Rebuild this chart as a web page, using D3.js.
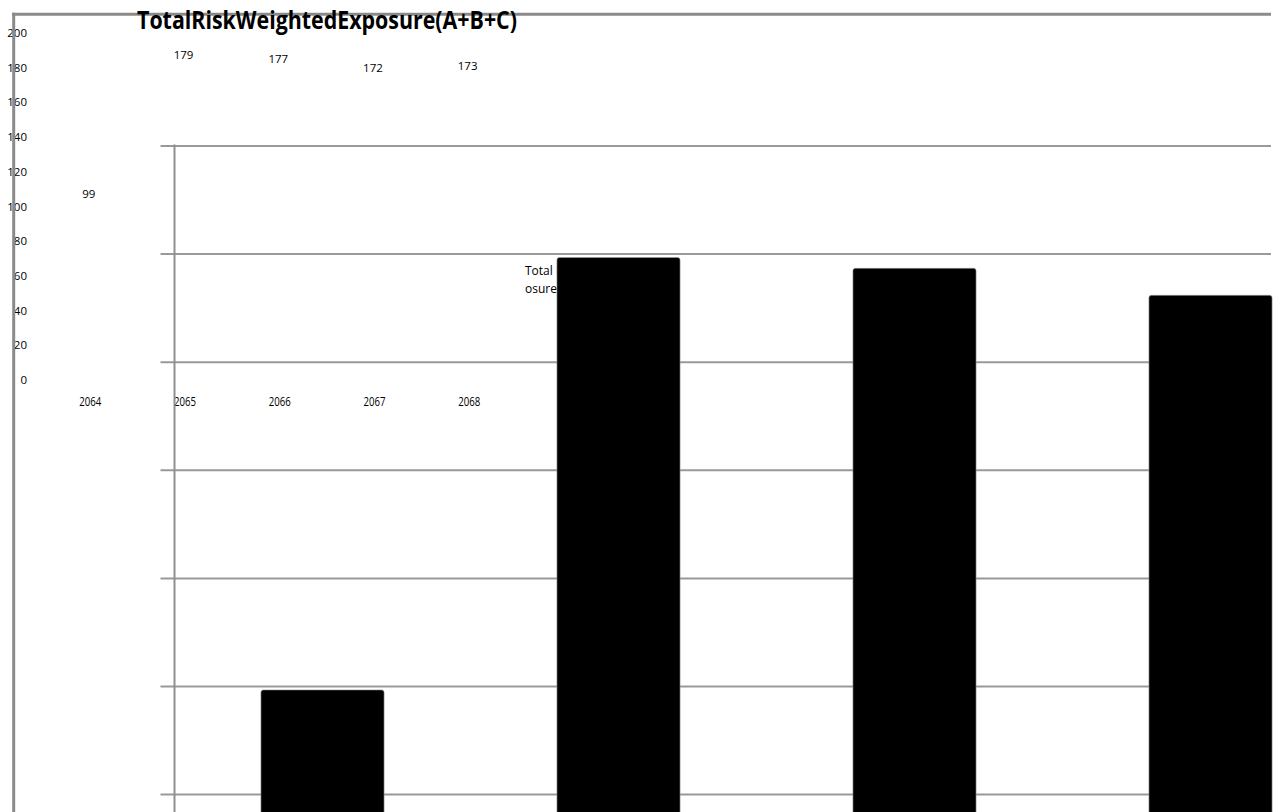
<!DOCTYPE html>
<html>
<head>
<meta charset="utf-8">
<script src="https://cdn.jsdelivr.net/npm/d3@7"></script>
<style>
  html, body { margin: 0; padding: 0; background: #fff; }
  svg { display: block; }
  text { font-family: "Open Sans", "Liberation Sans", sans-serif; fill: #000; }
</style>
</head>
<body>
<svg id="chart" width="1278" height="812"></svg>
<script>
// Total risk weighted exposure by fiscal year
const years = ["2064", "2065", "2066", "2067", "2068"];
const exposure = [99, 179, 177, 172, 173];
const tickValues = [0, 20, 40, 60, 80, 100, 120, 140, 160, 180, 200];
const titleText = "TotalRiskWeightedExposure(A+B+C)";
const legendLines = ["Total Risk Weighted Exp", "osure (A+B+C)"];

const svg = d3.select("#chart");
svg.append("rect").attr("width", 1278).attr("height", 812).attr("fill", "#fff");

// ---- compact overview: tick labels, value labels and year labels ----
const ySmall = d3.scaleLinear().domain([0, 200]).range([380, 33]);
const xSmall = d3.scaleBand().domain(years).range([43, 516.5]).padding(0);

const small = svg.append("g");
small.selectAll("text.tick").data(tickValues).join("text")
  .attr("class", "tick")
  .attr("x", 27)
  .attr("y", d => ySmall(d))
  .attr("dy", "0.35em")
  .attr("text-anchor", "end")
  .attr("font-size", 11.5)
  .text(d => d);

small.selectAll("text.val").data(exposure).join("text")
  .attr("class", "val")
  .attr("x", (d, i) => xSmall(years[i]) + xSmall.bandwidth() / 2 - 1.5)
  .attr("y", d => ySmall(d) - 14)
  .attr("dy", "0.35em")
  .attr("text-anchor", "middle")
  .attr("font-size", 11.5)
  .text(d => d);

small.selectAll("text.year").data(years).join("text")
  .attr("class", "year")
  .attr("x", d => xSmall(d) + xSmall.bandwidth() / 2 - 11)
  .attr("y", 402)
  .attr("dy", "0.35em")
  .attr("font-size", 12.5)
  .attr("textLength", 22)
  .attr("lengthAdjust", "spacingAndGlyphs")
  .text(d => d);

// ---- enlarged bar chart ----
const plotLeft = 174.5, plotRight = 1271;
const yBig = d3.scaleLinear().domain([0, 200]).range([1226.5, 145.5]);
const xBig = d3.scaleBand().domain(years)
  .range([plotLeft, plotLeft + 296 * years.length])
  .paddingInner(0.584).paddingOuter(0.292);

// gridlines with short outside ticks on the left
const grid = svg.append("g")
  .attr("transform", `translate(${plotLeft - 14},0)`)
  .call(d3.axisRight(yBig).tickValues(tickValues).tickSize(plotRight - plotLeft + 14).tickFormat(""));
grid.select(".domain").remove();
grid.selectAll(".tick line").attr("stroke", "#999").attr("stroke-width", 2);

// vertical value axis
svg.append("line")
  .attr("x1", plotLeft).attr("x2", plotLeft)
  .attr("y1", yBig(200) - 1).attr("y2", 812)
  .attr("stroke", "#8f8f8f").attr("stroke-width", 2);

// legend text, partly covered by the bars
svg.append("text")
  .attr("x", 525).attr("font-size", 12)
  .selectAll("tspan").data(legendLines).join("tspan")
  .attr("x", 525)
  .attr("y", (d, i) => 274.5 + i * 18)
  .text(d => d);

// bars
svg.append("g").selectAll("rect").data(exposure).join("rect")
  .attr("x", (d, i) => xBig(years[i]))
  .attr("y", d => yBig(d) - 1.5)
  .attr("width", xBig.bandwidth())
  .attr("height", d => yBig(0) - yBig(d))
  .attr("rx", 2.5)
  .attr("fill", "#000")
  .attr("stroke", "#9a9a9a")
  .attr("stroke-width", 0.6);

// outer frame (top and left edges)
svg.append("line")
  .attr("x1", 12).attr("x2", plotRight)
  .attr("y1", 14.3).attr("y2", 14.3)
  .attr("stroke", "#8a8a8a").attr("stroke-width", 3);
svg.append("line")
  .attr("x1", 13.7).attr("x2", 13.7)
  .attr("y1", 12.8).attr("y2", 812)
  .attr("stroke", "#8a8a8a").attr("stroke-width", 3);

// chart title
svg.append("text")
  .attr("x", 137).attr("y", 28.5)
  .attr("font-size", 25)
  .attr("font-weight", "bold")
  .attr("textLength", 380)
  .attr("lengthAdjust", "spacingAndGlyphs")
  .text(titleText);
</script>
</body>
</html>
